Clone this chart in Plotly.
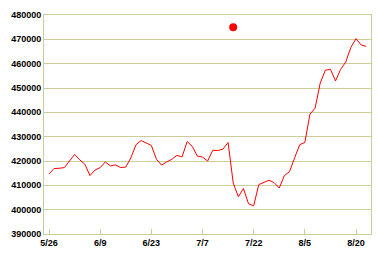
import plotly.graph_objects as go

# trading-day index and values
values = [414700, 416900, 417000, 417300, 420000, 422700, 420500, 418700, 414000, 416300,
          417300, 419600, 418000, 418400, 417300, 417500, 421300, 426700, 428400, 427300,
          426400, 420700, 418300, 419600, 420700, 422300, 421700, 428000, 426000, 422000,
          421600, 420000, 424400, 424300, 424900, 427600, 411000, 405300, 408700, 402400,
          401600, 410300, 411100, 412100, 411100, 408900, 414000, 415600, 421300, 426700,
          427600, 439300, 441700, 452000, 457300, 457700, 452900, 457700, 460700, 466700,
          470300, 467700, 467100]
x_idx = list(range(len(values)))

tick_pos = [0, 10, 20, 30, 40, 50, 60]
tick_labels = ["5/26", "6/9", "6/23", "7/7", "7/22", "8/5", "8/20"]

y_ticks = [390000, 400000, 410000, 420000, 430000, 440000, 450000, 460000, 470000, 480000]

dot_x = [36]
dot_y = [475000]

grid_col = "#cccc99"
font = dict(family="Liberation Sans", size=9, color="black", weight="bold")

fig = go.Figure()
fig.add_trace(go.Scatter(x=x_idx, y=values, mode="lines",
                         line=dict(color="#ff0000", width=1), hoverinfo="skip"))
fig.add_trace(go.Scatter(x=dot_x, y=dot_y, mode="markers",
                         marker=dict(color="#ff0000", size=8), hoverinfo="skip"))

fig.update_layout(
    width=382, height=258,
    margin=dict(l=44, r=11, t=10, b=23),
    paper_bgcolor="white", plot_bgcolor="white",
    showlegend=False,
    font=font,
    xaxis=dict(range=[-0.98, 62.93], tickmode="array", tickvals=tick_pos, ticktext=tick_labels,
               showgrid=False, zeroline=False, showline=True, linecolor=grid_col, linewidth=1,
               mirror=True, ticks="inside", ticklen=5, tickcolor=grid_col, tickwidth=1,
               tickfont=font),
    yaxis=dict(range=[390000, 480000], tickmode="array", tickvals=y_ticks,
               ticktext=[str(v) for v in y_ticks],
               showgrid=True, gridcolor=grid_col, gridwidth=1, zeroline=False,
               showline=True, linecolor=grid_col, linewidth=1, mirror=True,
               ticks="", tickfont=font),
)

fig.write_html("out.html")
